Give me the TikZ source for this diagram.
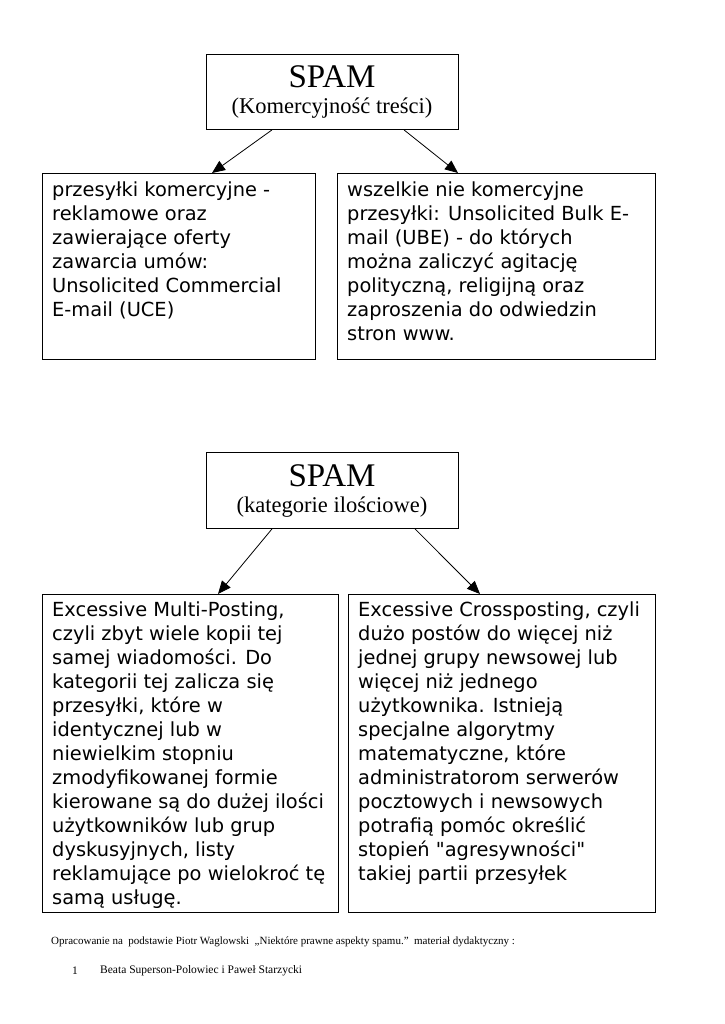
\documentclass[tikz,border=0pt]{standalone}
\usepackage{fontspec}
\setmainfont{Liberation Serif}
\newfontfamily\boxfont{DejaVu Sans}
\usetikzlibrary{arrows.meta,calc}
\begin{document}
\begin{tikzpicture}[x=1pt,y=-1pt,
  frame/.style={draw, line width=0.9pt, inner sep=0pt, anchor=north west},
  body/.style={anchor=north west, inner sep=0pt, align=left,
    font=\boxfont\fontsize{19.4}{24}\selectfont},
  big/.style={anchor=base, inner sep=0pt, font=\fontsize{33}{36}\selectfont},
  sub/.style={anchor=base, inner sep=0pt, font=\fontsize{22.5}{24}\selectfont},
  foot/.style={anchor=west, inner sep=0pt},
  conn/.style={line width=0.8pt, -{Triangle[length=13pt,width=11pt]}}]
\useasboundingbox (0,0) rectangle (724,1024);
% first diagram
\node[frame, minimum width=252pt, minimum height=75pt] (s1) at (206,54) {};
\node[big] (s1a) at (332,88) {SPAM};
\node[sub] (s1b) at (332,114) {(Komercyjność treści)};
\node[frame, minimum width=273pt, minimum height=186pt] (a1) at (42,173) {};
\node[frame, minimum width=318pt, minimum height=186pt] (a2) at (337,173) {};
\node[body] (a1t) at (52,182) {przesyłki komercyjne -\\reklamowe oraz\\zawierające oferty\\zawarcia umów:\\Unsolicited Commercial\\E-mail (UCE)};
\node[body] (a2t) at (347,182) {wszelkie nie komercyjne\\przesyłki: Unsolicited Bulk E-\\mail (UBE) - do których\\można zaliczyć agitację\\polityczną, religijną oraz\\zaproszenia do odwiedzin\\stron www.};
\draw[conn] ($(s1.south west)+(66,0)$) -- ($(a1.north west)+(170,0)$);
\draw[conn] ($(s1.south west)+(198,0)$) -- ($(a2.north west)+(121,0)$);
% second diagram
\node[frame, minimum width=252pt, minimum height=76pt] (s2) at (206,452) {};
\node[big] (s2a) at (332,486) {SPAM};
\node[sub] (s2b) at (332,512) {(kategorie ilościowe)};
\node[frame, minimum width=296pt, minimum height=318pt] (b1) at (42,594) {};
\node[frame, minimum width=307pt, minimum height=318pt] (b2) at (348,594) {};
\node[body] (b1t) at (52,602) {Excessive Multi-Posting,\\czyli zbyt wiele kopii tej\\samej wiadomości. Do\\kategorii tej zalicza się\\przesyłki, które w\\identycznej lub w\\niewielkim stopniu\\zmodyfikowanej formie\\kierowane są do dużej ilości\\użytkowników lub grup\\dyskusyjnych, listy\\reklamujące po wielokroć tę\\samą usługę.};
\node[body] (b2t) at (358,602) {Excessive Crossposting, czyli\\dużo postów do więcej niż\\jednej grupy newsowej lub\\więcej niż jednego\\użytkownika. Istnieją\\specjalne algorytmy\\matematyczne, które\\administratorom serwerów\\pocztowych i newsowych\\potrafią pomóc określić\\stopień "agresywności"\\takiej partii przesyłek};
\draw[conn] ($(s2.south west)+(66,0)$) -- ($(b1.north west)+(176,0)$);
\draw[conn] ($(s2.south west)+(209,0)$) -- ($(b2.north west)+(132,0)$);
% footer
\node[foot, font=\fontsize{11}{13}\selectfont] (f1) at (51,942)
  {Opracowanie na\ \ podstawie Piotr Waglowski\ \ „Niektóre prawne aspekty spamu.”\ \ materiał dydaktyczny :};
\node[foot, font=\fontsize{11.5}{13}\selectfont] (f2) at (72,971) {1};
\node[foot, font=\fontsize{11.5}{13}\selectfont] (f3) at (100,971) {Beata Superson-Polowiec i Paweł Starzycki};
\end{tikzpicture}
\end{document}
